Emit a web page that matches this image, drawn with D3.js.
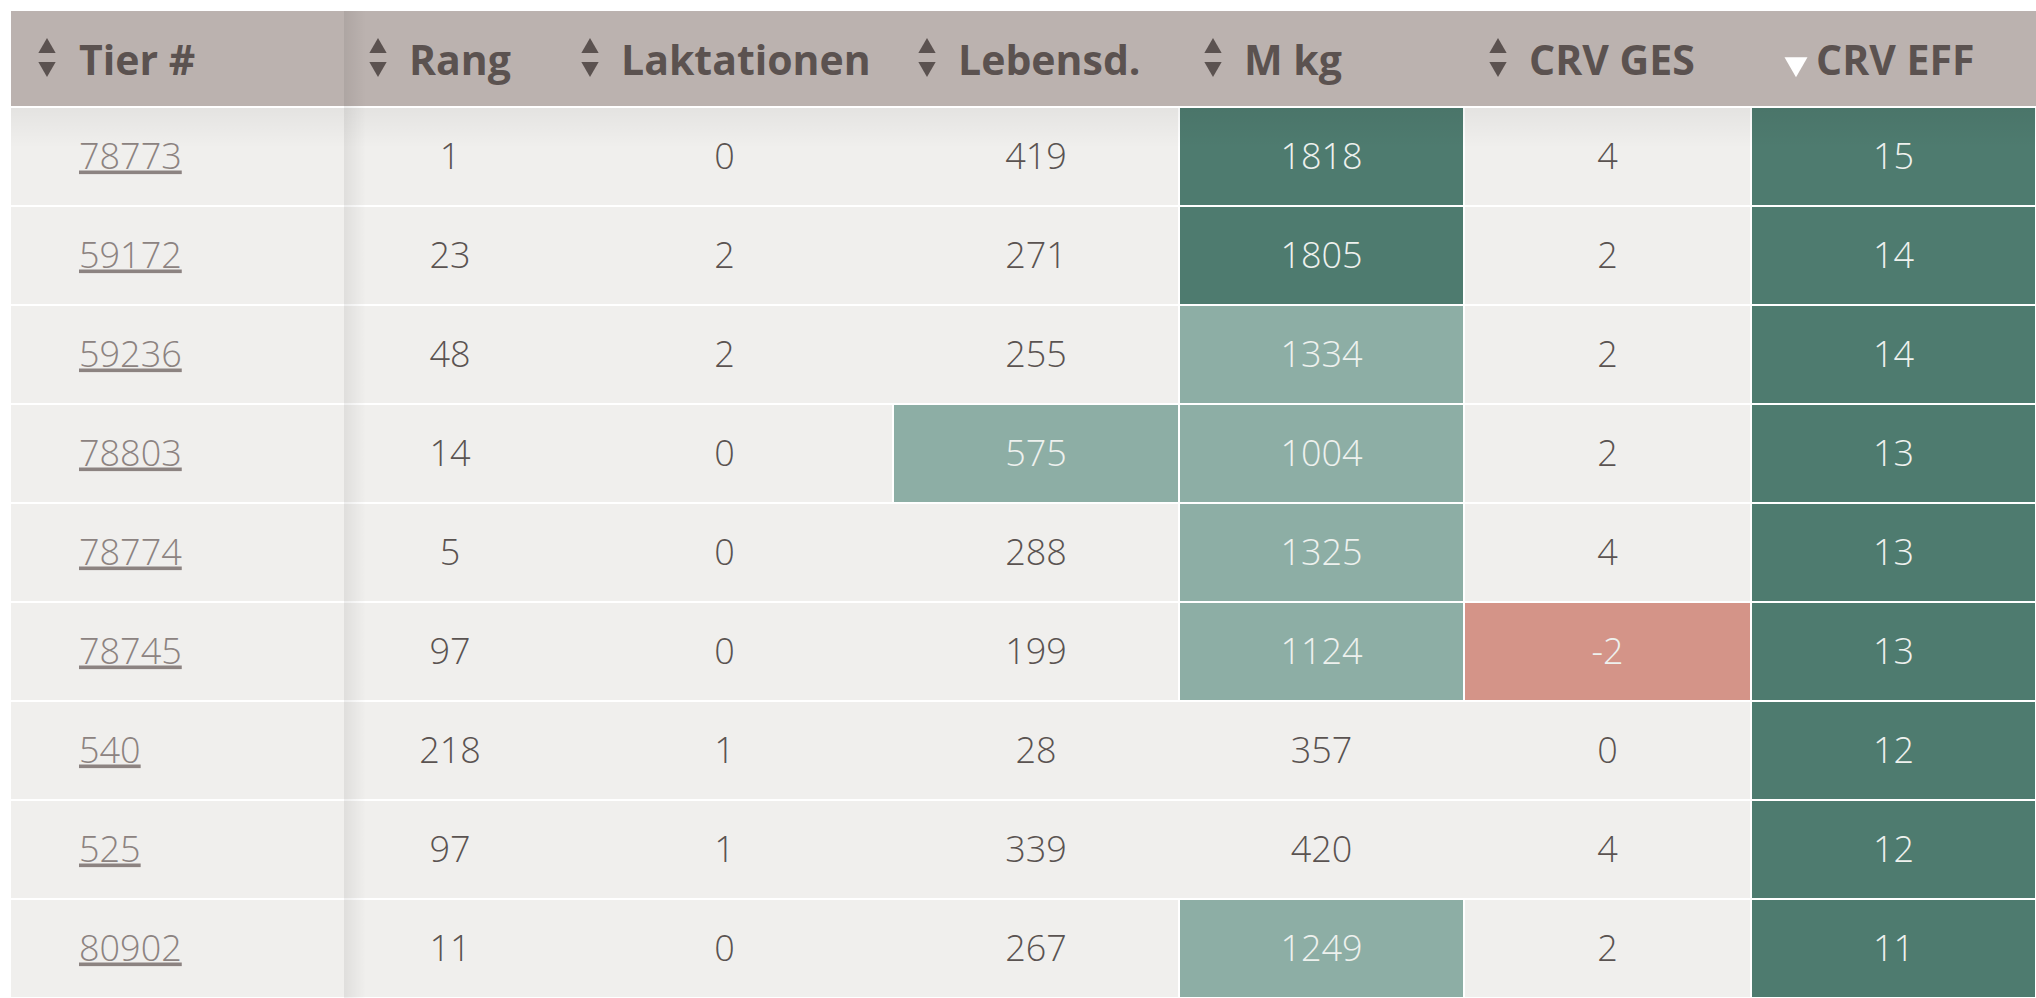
<!DOCTYPE html>
<html>
<head>
<meta charset="utf-8">
<script src="https://cdn.jsdelivr.net/npm/d3@7"></script>
<style>
  html, body { margin: 0; padding: 0; background: #ffffff; }
  svg { display: block; }
</style>
</head>
<body>
<script>
// table data, one array per column
const tierIds = ["78773", "59172", "59236", "78803", "78774", "78745", "540", "525", "80902"];
const rang = [1, 23, 48, 14, 5, 97, 218, 97, 11];
const laktationen = [0, 2, 2, 0, 0, 0, 1, 1, 0];
const lebensd = [419, 271, 255, 575, 288, 199, 28, 339, 267];
const mKg = [1818, 1805, 1334, 1004, 1325, 1124, 357, 420, 1249];
const crvGes = [4, 2, 2, 2, 4, -2, 0, 4, 2];
const crvEff = [15, 14, 14, 13, 13, 13, 12, 12, 11];
const headers = ["Tier #", "Rang", "Laktationen", "Lebensd.", "M kg", "CRV GES", "CRV EFF"];

const width = 2036;
const height = 998;

// layout
var marginLeft = 11, marginTop = 11, headH = 95;
var colWidths = [333, 212, 337, 286, 285, 287, 285];

var dark = "#4e7b6f", light = "#8daea5", salmon = "#d49488";

var columns = [tierIds, rang, laktationen, lebensd, mKg, crvGes, crvEff];

// color rule for each column (null = plain cell)
var colorScales = [
  null, null, null,
  d3.scaleThreshold().domain([500]).range([null, light]),
  d3.scaleThreshold().domain([1000, 1500]).range([null, light, dark]),
  d3.scaleThreshold().domain([0]).range([salmon, null]),
  d3.scaleThreshold().domain([10]).range([null, dark])
];

var edges = [marginLeft].concat(Array.from(d3.cumsum(colWidths), function(c) { return marginLeft + c; }));
var x = d3.scaleOrdinal().domain(headers).range(edges.slice(0, -1));
var colW = d3.scaleOrdinal().domain(headers).range(colWidths);

var y = d3.scaleBand()
  .domain(tierIds)
  .range([marginTop + headH, marginTop + headH + 99 * tierIds.length]);

var svg = d3.select("body").append("svg")
  .attr("width", width)
  .attr("height", height);

var defs = svg.append("defs");
var gShadow = defs.append("linearGradient").attr("id", "colShadow");
gShadow.append("stop").attr("offset", "0%").attr("stop-color", "#000").attr("stop-opacity", 0.07);
gShadow.append("stop").attr("offset", "100%").attr("stop-color", "#000").attr("stop-opacity", 0);
var gTop = defs.append("linearGradient").attr("id", "headShadow")
  .attr("x1", 0).attr("y1", 0).attr("x2", 0).attr("y2", 1);
gTop.append("stop").attr("offset", "0%").attr("stop-color", "#000").attr("stop-opacity", 0.05);
gTop.append("stop").attr("offset", "100%").attr("stop-color", "#000").attr("stop-opacity", 0);

// header
svg.append("rect")
  .attr("x", marginLeft).attr("y", marginTop)
  .attr("width", width - marginLeft).attr("height", headH)
  .attr("fill", "#bbb2af");

var head = svg.selectAll("g.head")
  .data(headers)
  .join("g")
  .attr("class", "head")
  .attr("transform", function(d) { return "translate(" + x(d) + "," + marginTop + ")"; });

head.append("text")
  .attr("x", function(d, i) { return i === 0 ? 68 : 65; })
  .attr("y", 64)
  .attr("fill", "#5b5250")
  .style("font-family", "'Open Sans', sans-serif")
  .style("font-weight", 700)
  .style("font-stretch", "97%")
  .style("font-size", "41px")
  .text(function(d) { return d; });

var tri = d3.symbol().type(d3.symbolTriangle);

head.filter(function(d, i) { return i < headers.length - 1; })
  .each(function(d, i) {
    var g = d3.select(this);
    var cx = i === 0 ? 36 : 34;
    g.append("path")
      .attr("d", tri.size(130)())
      .attr("transform", "translate(" + cx + ",37)")
      .attr("fill", "#5b5250");
    g.append("path")
      .attr("d", tri.size(130)())
      .attr("transform", "translate(" + cx + ",56) rotate(180)")
      .attr("fill", "#5b5250");
  });

// active sort marker
head.filter(function(d, i) { return i === headers.length - 1; })
  .append("path")
  .attr("d", tri.size(230)())
  .attr("transform", "translate(45,53) rotate(180)")
  .attr("fill", "#ffffff");

// body cells
var rows = svg.selectAll("g.row")
  .data(tierIds)
  .join("g")
  .attr("class", "row")
  .attr("transform", function(d) { return "translate(0," + y(d) + ")"; });

rows.each(function(id, r) {
  var g = d3.select(this);
  g.append("rect")
    .attr("x", marginLeft)
    .attr("y", 2)
    .attr("width", width - marginLeft)
    .attr("height", y.bandwidth() - 2)
    .attr("fill", "#f0efed");
  headers.forEach(function(h, c) {
    var v = columns[c][r];
    var fill = colorScales[c] ? colorScales[c](v) : null;
    if (fill) {
      g.append("rect")
        .attr("x", x(h) - 1)
        .attr("y", 2)
        .attr("width", colW(h) + 2)
        .attr("height", y.bandwidth() - 2)
        .attr("fill", "#ffffff");
      g.append("rect")
        .attr("x", x(h) + 1)
        .attr("y", 2)
        .attr("width", colW(h) - 2)
        .attr("height", y.bandwidth() - 2)
        .attr("fill", fill);
    }
    var t = g.append("text")
      .attr("x", c === 0 ? x(h) + 68 : x(h) + colW(h) / 2)
      .attr("y", y.bandwidth() / 2 + 13)
      .attr("text-anchor", c === 0 ? "start" : "middle")
      .attr("fill", c === 0 ? "#8c8381" : (fill ? "#eef1ee" : "#5a5351"))
      .style("font-family", "'Open Sans', sans-serif")
      .style("font-weight", 300)
      .style("font-size", "36px")
      .text(v);
    if (c === 0) t.style("text-decoration", "underline");
  });
});

// sticky column and header shadows
svg.append("rect")
  .attr("x", edges[1]).attr("y", marginTop)
  .attr("width", 22).attr("height", height - marginTop)
  .attr("fill", "url(#colShadow)");
svg.append("rect")
  .attr("x", marginLeft).attr("y", marginTop + headH + 2)
  .attr("width", width - marginLeft).attr("height", 40)
  .attr("fill", "url(#headShadow)");
</script>
</body>
</html>
